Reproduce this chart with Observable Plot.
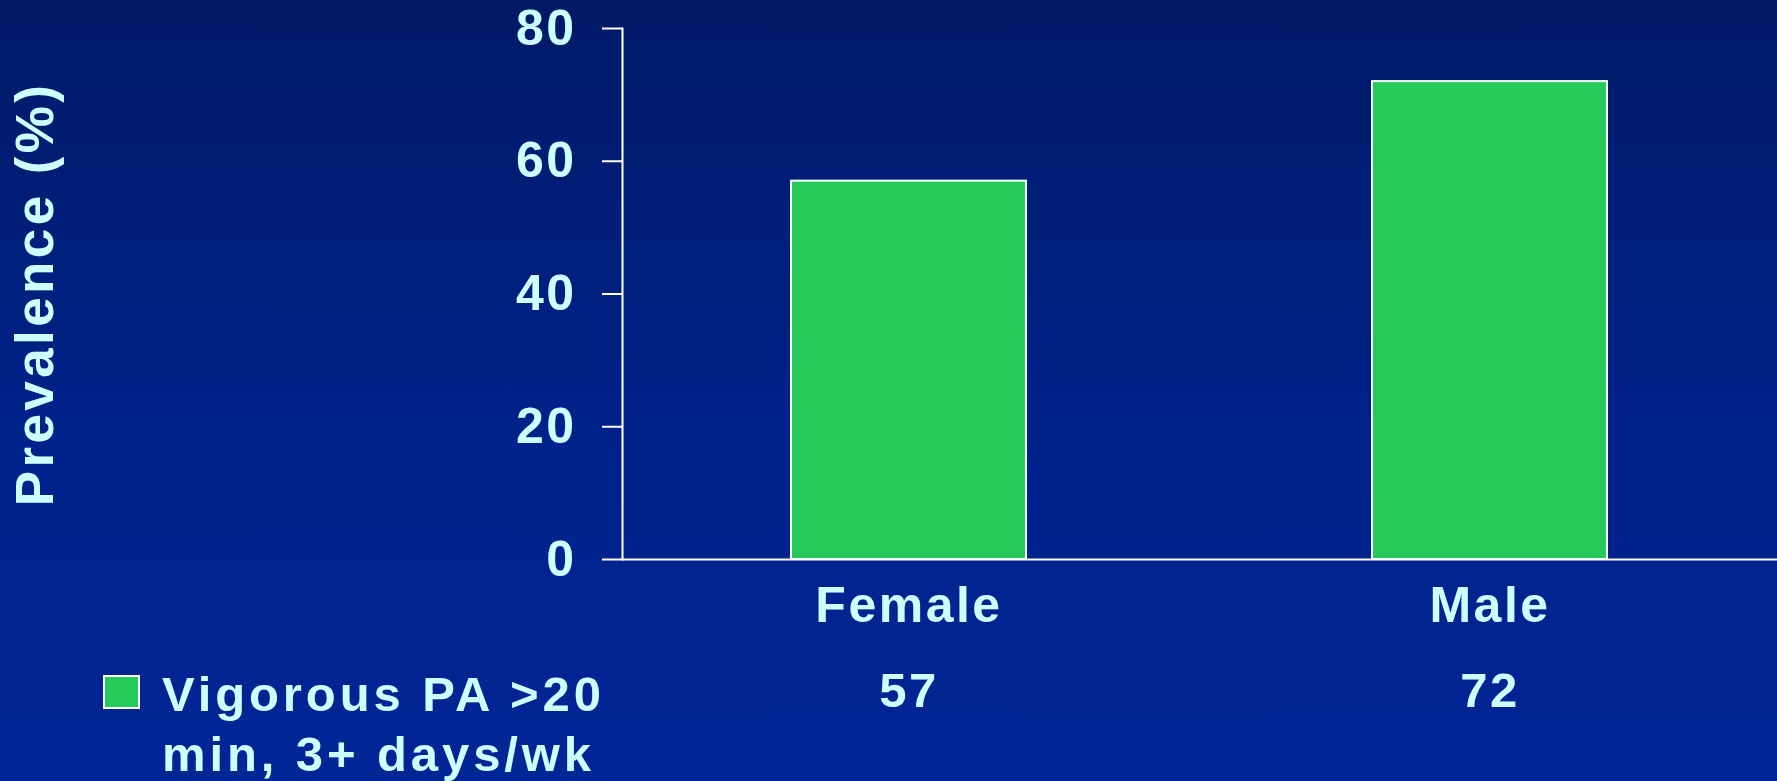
<!DOCTYPE html>
<html>
<head>
<meta charset="utf-8">
<script src="https://cdn.jsdelivr.net/npm/d3@7"></script>
<script src="https://cdn.jsdelivr.net/npm/@observablehq/plot@0.6"></script>
<style>
  html, body { margin: 0; padding: 0; }
  body {
    width: 1777px; height: 781px; overflow: hidden;
    background: linear-gradient(to bottom, #001a66 0%, #00218a 55%, #002696 100%);
    font-family: "Liberation Sans", Arial, sans-serif; font-weight: bold;
  }
  #wrap { position: relative; width: 1777px; height: 781px; }
  #legend { position: absolute; left: 0; top: 0; }
  #legend .sw {
    position: absolute; left: 103px; top: 675px; width: 33px; height: 30px;
    border: 2px solid #ffffff;
  }
  #legend .tx {
    position: absolute; left: 162px; top: 664px; font-size: 49px; line-height: 60px;
    color: #ccffff; white-space: nowrap; letter-spacing: 3.9px;
  }
  svg text { letter-spacing: 2.5px; }
</style>
</head>
<body>
<div id="wrap"></div>
<script>
const categories = ["Female", "Male"];
const values = [57, 72];
const yTicks = [0, 20, 40, 60, 80];
const yTitle = "Prevalence (%)";
const seriesName = ["Vigorous PA >20", "min, 3+ days/wk"];
const barColor = "#26ca5a";

const data = categories.map((c, i) => ({sex: c, value: values[i]}));

const chart = Plot.plot({
  width: 1777,
  height: 781,
  marginLeft: 622,
  marginRight: 0,
  marginTop: 28,
  marginBottom: 222,
  style: {background: "transparent", color: "#ccffff", fontFamily: "'Liberation Sans', Arial, sans-serif", fontWeight: "bold", overflow: "visible"},
  x: {domain: categories, paddingInner: 0.595, paddingOuter: 0.29, label: null},
  y: {domain: [0, 80], label: null},
  marks: [
    Plot.barY(data, {x: "sex", y: "value", fill: barColor, stroke: "white", strokeWidth: 2}),
    Plot.frame({anchor: "left", stroke: "white", strokeWidth: 2}),
    Plot.ruleY([0], {stroke: "white", strokeWidth: 2}),
    Plot.axisY({ticks: yTicks, tickSize: 20, tickPadding: 26, fontSize: 50, stroke: "white", strokeWidth: 2, strokeOpacity: 1, fill: "#ccffff", label: null}),
    Plot.axisX({tickSize: 0, tickPadding: 27, fontSize: 50, fill: "#ccffff", label: null}),
    Plot.text(data, {x: "sex", text: d => String(d.value), frameAnchor: "bottom", dy: 147, fontSize: 49, fill: "#ccffff"}),
    Plot.text([yTitle], {frameAnchor: "left", textAnchor: "middle", rotate: -90, dx: -586, fontSize: 53, fill: "#ccffff"})
  ]
});

d3.select(chart).selectAll("text")
  .filter(function() { return this.textContent === yTitle; })
  .style("letter-spacing", "3.4px");

const wrap = document.getElementById("wrap");
wrap.appendChild(chart);

const legend = document.createElement("div");
legend.id = "legend";
legend.innerHTML = `<div class="sw" style="background:${barColor}"></div><div class="tx">${seriesName.join("<br>")}</div>`;
wrap.appendChild(legend);
</script>
</body>
</html>
